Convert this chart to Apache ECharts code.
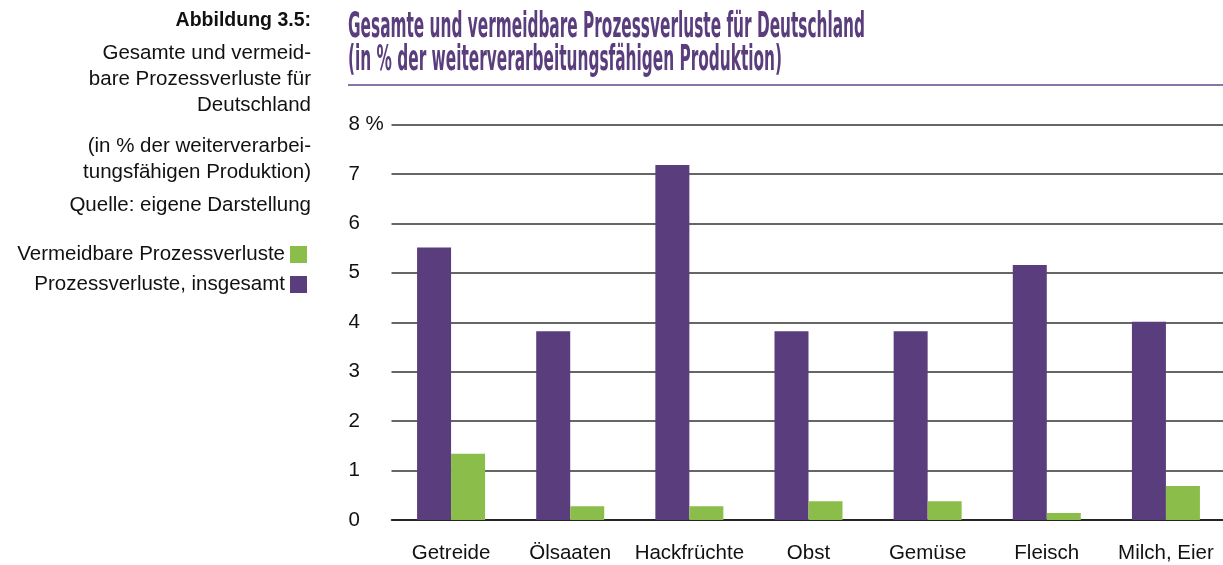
<!DOCTYPE html>
<html>
<head>
<meta charset="utf-8">
<title>Prozessverluste</title>
<script src="https://cdn.jsdelivr.net/npm/echarts@6/dist/echarts.min.js"></script>
<style>
  * { margin: 0; padding: 0; }
  html, body { width: 100%; height: 100%; background: #fff; }
  #main { width: 1223px; height: 565px; }
</style>
</head>
<body>
<div id="main"></div>
<script>
// Daten
var categories = ['Getreide', 'Ölsaaten', 'Hackfrüchte', 'Obst', 'Gemüse', 'Fleisch', 'Milch, Eier'];
var totalLoss = [5.51, 3.82, 7.18, 3.82, 3.82, 5.16, 4.01];
var avoidableLoss = [1.34, 0.28, 0.28, 0.38, 0.38, 0.14, 0.69];
var seriesNames = ['Prozessverluste, insgesamt', 'Vermeidbare Prozessverluste'];
var yMax = 8;
var yStep = 1;

var titleLines = [
  'Gesamte und vermeidbare Prozessverluste für Deutschland',
  '(in % der weiterverarbeitungsfähigen Produktion)'
];
var sideLines = [
  'Gesamte und vermeid-',
  'bare Prozessverluste für',
  'Deutschland',
  '(in % der weiterverarbei-',
  'tungsfähigen Produktion)',
  'Quelle: eigene Darstellung'
];

var purple = '#5a3d7c';
var green = '#8bbd4a';
var bodyFont = '"Liberation Sans", Arial, sans-serif';
var titleFont = '"Liberation Sans Narrow", "DejaVu Sans Condensed", sans-serif';

// Titel schmal machen (Original nutzt eine Condensed-Schrift)
var ctx = document.createElement('canvas').getContext('2d');
ctx.font = 'bold 35px ' + titleFont;
var titleScale = 517 / ctx.measureText(titleLines[0]).width;

var sideY = [53, 79, 105, 146, 172, 205];
var graphics = [{
  type: 'text', x: 311, y: 21,
  style: { text: 'Abbildung 3.5:', font: 'bold 19.5px ' + bodyFont, fill: '#111', align: 'right', verticalAlign: 'middle' }
}];
sideLines.forEach(function (t, i) {
  graphics.push({
    type: 'text', x: 311, y: sideY[i],
    style: { text: t, font: '20.5px ' + bodyFont, fill: '#111', align: 'right', verticalAlign: 'middle' }
  });
});
titleLines.forEach(function (t, i) {
  graphics.push({
    type: 'text', x: 348, y: 28 + i * 33, scaleX: titleScale,
    style: { text: t, font: 'bold 35px ' + titleFont, fill: purple, align: 'left', verticalAlign: 'middle' }
  });
});
graphics.push({
  type: 'line', shape: { x1: 348, y1: 85, x2: 1223, y2: 85 },
  style: { stroke: '#8a74a6', lineWidth: 2 }
});

var chart = echarts.init(document.getElementById('main'));
chart.setOption({
  animation: false,
  backgroundColor: '#fff',
  graphic: graphics,
  legend: {
    orient: 'vertical',
    right: 911,
    top: 239,
    align: 'right',
    itemWidth: 17,
    itemHeight: 17,
    itemGap: 9,
    icon: 'rect',
    data: [seriesNames[1], seriesNames[0]],
    textStyle: { fontFamily: bodyFont, fontSize: 20.5, color: '#111' }
  },
  grid: {
    left: 391.5, right: -2.5, top: 124.5, bottom: 45,
    outerBoundsMode: 'none'
  },
  xAxis: {
    type: 'category',
    data: categories,
    axisTick: { show: false },
    axisLine: { show: true, lineStyle: { color: '#111', width: 1.5 } },
    axisLabel: { fontFamily: bodyFont, fontSize: 20.5, color: '#111', margin: 23, interval: 0 }
  },
  yAxis: {
    type: 'value',
    min: 0, max: yMax, interval: yStep,
    axisLine: { show: false },
    axisTick: { show: false },
    axisLabel: {
      fontFamily: bodyFont, fontSize: 20.5, color: '#111', align: 'left', margin: 43,
      formatter: function (v) { return v === yMax ? v + ' %' : v; }
    },
    splitLine: { lineStyle: { color: '#333', width: 1.5 } }
  },
  series: [{
    name: seriesNames[0],
    type: 'bar',
    data: totalLoss,
    barWidth: 34,
    barGap: '0%',
    itemStyle: { color: purple }
  }, {
    name: seriesNames[1],
    type: 'bar',
    data: avoidableLoss,
    barWidth: 34,
    itemStyle: { color: green }
  }]
});
</script>
</body>
</html>
